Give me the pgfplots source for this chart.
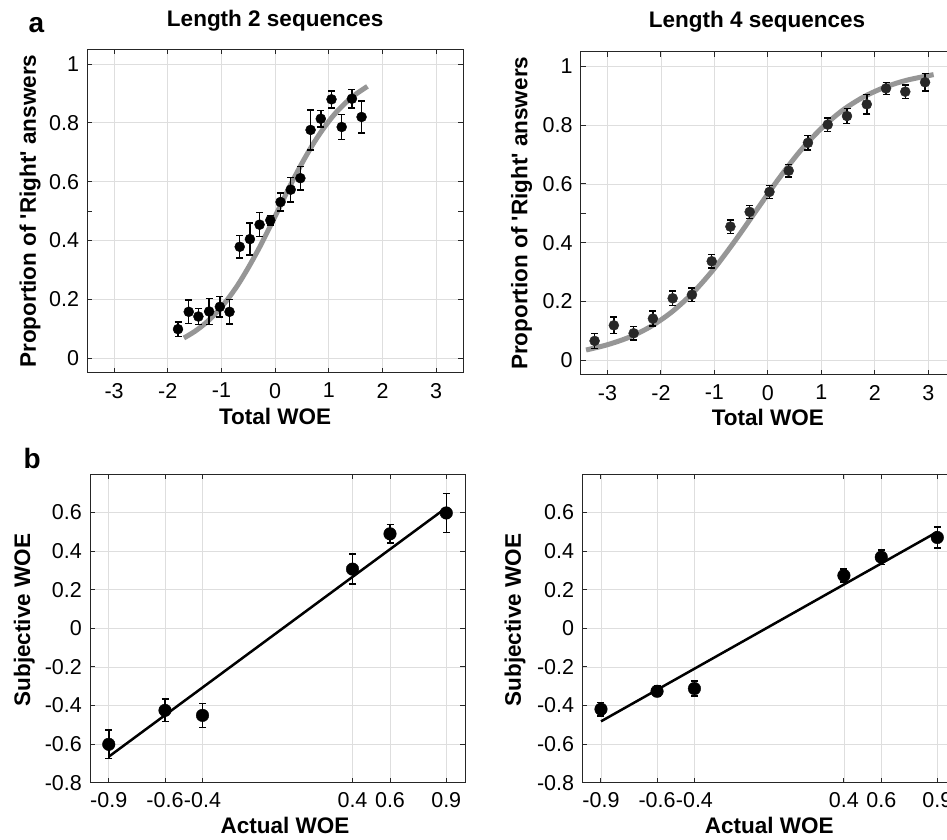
\documentclass[border=0pt]{standalone}
\usepackage{fontspec}
\setmainfont{Liberation Sans}
\usepackage{pgfplots}
\pgfplotsset{compat=1.18}

\definecolor{axcol}{RGB}{38,38,38}
\definecolor{gridcol}{RGB}{222,222,222}
\definecolor{fitgray}{RGB}{150,150,150}
\definecolor{dotgray}{RGB}{40,40,40}

\pgfplotsset{
  mlab/.style={
    scale only axis,
    clip=true,
    axis line style={draw=axcol, line width=1pt},
    every tick/.style={draw=axcol, line width=1pt},
    major tick length=5pt,
    tick align=inside,
    grid=major,
    major grid style={draw=gridcol, line width=0.8pt},
    /pgf/number format/assume math mode=true,
    tick label style={font=\fontsize{21.5}{23}\selectfont, text=black},
    xticklabel style={inner sep=0pt, anchor=north, yshift=-10pt},
    yticklabel style={inner sep=0pt, anchor=east, xshift=-8pt},
    xlabel style={font=\bfseries\fontsize{22.5}{25}\selectfont, anchor=center},
    ylabel style={font=\bfseries\fontsize{22.5}{25}\selectfont, anchor=center, rotate=0},
    title style={font=\bfseries\fontsize{22.5}{25}\selectfont, anchor=center},
  },
  errdots/.style={
    only marks, mark=*, mark size=5pt,
    mark options={draw=#1, fill=#1},
    error bars/.cd, y dir=both, y explicit,
    error bar style={line width=1.5pt, black},
    error mark options={rotate=90, mark size=3.5pt, line width=1.5pt, black},
    /pgfplots/.cd,
  },
}

\begin{document}
\begin{tikzpicture}
\useasboundingbox (0,0) rectangle (947pt,839pt);
\clip (0,0) rectangle (947pt,839pt);

\node[anchor=base west, font=\bfseries\fontsize{28}{30}\selectfont] at (25pt,806pt) {a};
\node[anchor=base west, font=\bfseries\fontsize{28}{30}\selectfont] at (20pt,371pt) {b};

% a, length 2
\begin{axis}[mlab,
  at={(87.3pt,466pt)}, anchor=south west,
  width=375.7pt, height=323.7pt,
  xmin=-3.5, xmax=3.5, ymin=-0.05, ymax=1.05,
  xtick={-3,-2,-1,0,1,2,3},
  ytick={0,0.2,0.4,0.6,0.8,1},
  extra y ticks={0.5}, extra y tick labels={}, extra y tick style={grid=none},
  title={Length 2 sequences},
  title style={at={(axis description cs:0.5,1.07)}},
  xlabel={Total WOE},
  xlabel style={at={(axis description cs:0.5,-0.135)}},
  ylabel={Proportion of \textquotesingle Right\textquotesingle\ answers},
  ylabel style={at={(axis description cs:-0.152,0.5)}},
]
\addplot[fitgray, line width=5pt, smooth] coordinates {
(-1.70,0.069)(-1.50,0.091)(-1.30,0.119)(-1.10,0.154)(-0.90,0.197)(-0.70,0.248)
(-0.50,0.308)(-0.30,0.374)(-0.10,0.446)(0.10,0.520)(0.30,0.594)(0.50,0.663)
(0.70,0.726)(0.90,0.781)(1.10,0.828)(1.30,0.866)(1.50,0.897)(1.72,0.924)};
\addplot[errdots=black] coordinates {
(-1.81,0.099) +- (0,0.025)
(-1.61,0.158) +- (0,0.040)
(-1.43,0.142) +- (0,0.028)
(-1.23,0.159) +- (0,0.045)
(-1.03,0.175) +- (0,0.035)
(-0.85,0.158) +- (0,0.042)
(-0.66,0.379) +- (0,0.038)
(-0.47,0.405) +- (0,0.054)
(-0.29,0.454) +- (0,0.041)
(-0.09,0.469) +- (0,0.016)
(0.10,0.531) +- (0,0.031)
(0.29,0.573) +- (0,0.042)
(0.47,0.612) +- (0,0.040)
(0.66,0.776) +- (0,0.068)
(0.85,0.814) +- (0,0.028)
(1.05,0.880) +- (0,0.029)
(1.24,0.786) +- (0,0.042)
(1.43,0.882) +- (0,0.032)
(1.61,0.820) +- (0,0.055)};
\end{axis}

% a, length 4
\begin{axis}[mlab,
  at={(580.7pt,464pt)}, anchor=south west,
  width=374.3pt, height=323.3pt,
  xmin=-3.5, xmax=3.5, ymin=-0.05, ymax=1.05,
  xtick={-3,-2,-1,0,1,2,3},
  ytick={0,0.2,0.4,0.6,0.8,1},
  extra y ticks={0.5}, extra y tick labels={}, extra y tick style={grid=none},
  title={Length 4 sequences},
  title style={at={(axis description cs:0.471,1.073)}},
  xlabel={Total WOE},
  xlabel style={at={(axis description cs:0.5,-0.13)}},
  ylabel={Proportion of \textquotesingle Right\textquotesingle\ answers},
  ylabel style={at={(axis description cs:-0.158,0.5)}},
]
\addplot[fitgray, line width=5pt, smooth] coordinates {
(-3.40,0.035)(-3.00,0.053)(-2.60,0.078)(-2.20,0.114)(-1.80,0.164)(-1.40,0.230)
(-1.00,0.313)(-0.60,0.410)(-0.20,0.514)(0.20,0.617)(0.60,0.711)(1.00,0.789)
(1.40,0.851)(1.80,0.897)(2.20,0.930)(2.60,0.953)(3.10,0.972)};
\addplot[errdots=dotgray] coordinates {
(-3.24,0.066) +- (0,0.025)
(-2.88,0.119) +- (0,0.028)
(-2.51,0.092) +- (0,0.023)
(-2.15,0.142) +- (0,0.026)
(-1.78,0.211) +- (0,0.025)
(-1.42,0.223) +- (0,0.023)
(-1.05,0.337) +- (0,0.023)
(-0.70,0.455) +- (0,0.023)
(-0.34,0.505) +- (0,0.022)
(0.03,0.573) +- (0,0.022)
(0.39,0.645) +- (0,0.022)
(0.75,0.740) +- (0,0.025)
(1.12,0.802) +- (0,0.023)
(1.48,0.831) +- (0,0.026)
(1.85,0.871) +- (0,0.033)
(2.21,0.925) +- (0,0.020)
(2.57,0.914) +- (0,0.023)
(2.94,0.946) +- (0,0.030)};
\end{axis}

% b, length 2
\begin{axis}[mlab,
  at={(90pt,56.3pt)}, anchor=south west,
  width=375pt, height=308.7pt,
  xmin=-1, xmax=1, ymin=-0.8, ymax=0.8,
  xtick={-0.9,-0.6,-0.4,0.4,0.6,0.9},
  ytick={-0.8,-0.6,-0.4,-0.2,0,0.2,0.4,0.6},
  xlabel={Actual WOE},
  xlabel style={at={(axis description cs:0.52,-0.14)}},
  ylabel={Subjective WOE},
  ylabel style={at={(axis description cs:-0.175,0.527)}},
]
\addplot[black, line width=2.5pt] coordinates {(-0.9,-0.665)(0.9,0.625)};
\addplot[errdots=black, mark size=6.3pt] coordinates {
(-0.9,-0.601) +- (0,0.074)
(-0.6,-0.425) +- (0,0.059)
(-0.4,-0.451) +- (0,0.062)
(0.4,0.307) +- (0,0.078)
(0.6,0.490) +- (0,0.048)
(0.9,0.598) +- (0,0.100)};
\end{axis}

% b, length 4
\begin{axis}[mlab,
  at={(582.3pt,56.3pt)}, anchor=south west,
  width=373.7pt, height=308.7pt,
  xmin=-1, xmax=1, ymin=-0.8, ymax=0.8,
  xtick={-0.9,-0.6,-0.4,0.4,0.6,0.9},
  ytick={-0.8,-0.6,-0.4,-0.2,0,0.2,0.4,0.6},
  xlabel={Actual WOE},
  xlabel style={at={(axis description cs:0.5,-0.14)}},
  ylabel={Subjective WOE},
  ylabel style={at={(axis description cs:-0.18,0.527)}},
]
\addplot[black, line width=2.5pt] coordinates {(-0.9,-0.482)(0.9,0.500)};
\addplot[errdots=black, mark size=6.3pt] coordinates {
(-0.9,-0.419) +- (0,0.036)
(-0.6,-0.326) +- (0,0.028)
(-0.4,-0.312) +- (0,0.038)
(0.4,0.274) +- (0,0.033)
(0.6,0.369) +- (0,0.038)
(0.9,0.471) +- (0,0.055)};
\end{axis}
\end{tikzpicture}
\end{document}
